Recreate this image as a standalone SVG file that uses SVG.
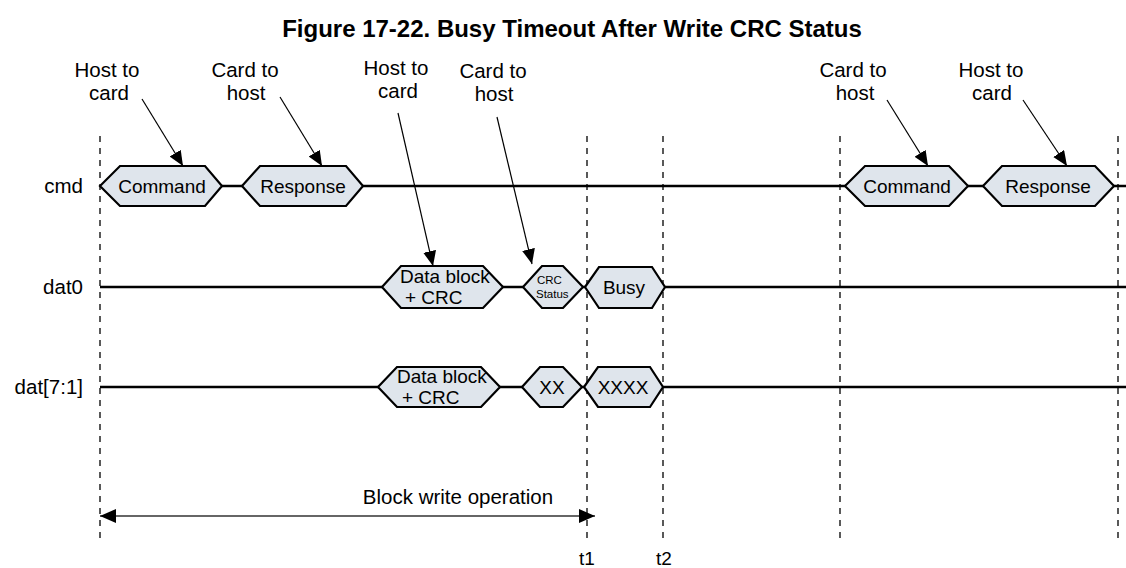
<svg xmlns="http://www.w3.org/2000/svg" width="1126" height="568" viewBox="0 0 1126 568">
<defs>
<marker id="ah" markerUnits="userSpaceOnUse" markerWidth="16" markerHeight="14" refX="15" refY="6.5" orient="auto">
<path d="M0,0 L15,6.5 L0,13 z" fill="#000"/>
</marker>
<marker id="ah2" markerUnits="userSpaceOnUse" markerWidth="17" markerHeight="14" refX="16" refY="7" orient="auto-start-reverse">
<path d="M0,0 L16,7 L0,14 z" fill="#000"/>
</marker>
</defs>
<style>
text{font-family:"Liberation Sans",Arial,sans-serif;fill:#000}
.t{font-size:24px;font-weight:bold}
.lb{font-size:20.5px;text-anchor:middle}
.tm{font-size:19px;text-anchor:middle}
.sig{font-size:20.5px;text-anchor:end}
.hx{font-size:19px}
.c{text-anchor:middle}
.sm{font-size:11.5px}
.hex{fill:#dfe5ec;stroke:#000;stroke-width:2.2}
.wire{stroke:#000;stroke-width:2.5;fill:none}
.dash{stroke:#000;stroke-width:1.3;stroke-dasharray:6 6;fill:none}
.ptr{stroke:#000;stroke-width:1.2;fill:none;marker-end:url(#ah)}
</style>
<rect width="1126" height="568" fill="#fff"/>
<text class="t" x="572" y="37" text-anchor="middle">Figure 17-22. Busy Timeout After Write CRC Status</text>

<g id="timeline-markers">
<line class="dash" x1="100" y1="136" x2="100" y2="540"/>
<line class="dash" x1="587" y1="136" x2="587" y2="540"/>
<line class="dash" x1="663" y1="136" x2="663" y2="540"/>
<line class="dash" x1="840" y1="136" x2="840" y2="540"/>
<line class="dash" x1="1118" y1="136" x2="1118" y2="540"/>
<text class="tm" x="587" y="565">t1</text>
<text class="tm" x="664" y="565">t2</text>
</g>

<g id="signals">
<line class="wire" x1="100" y1="186" x2="1126" y2="186"/>
<line class="wire" x1="100" y1="287" x2="1126" y2="287"/>
<line class="wire" x1="100" y1="387" x2="1126" y2="387"/>
<text class="sig" x="83" y="193">cmd</text>
<text class="sig" x="83" y="294">dat0</text>
<text class="sig" x="83" y="394">dat[7:1]</text>
</g>

<g id="cmd-command-1">
<polygon class="hex" points="100,186 120,166 205,166 222,186 205,206 120,206"/>
<text class="hx c" x="162" y="193">Command</text>
</g>
<g id="cmd-response-1">
<polygon class="hex" points="242,186 260,166 346,166 363,186 346,206 260,206"/>
<text class="hx c" x="303" y="193">Response</text>
</g>
<g id="cmd-command-2">
<polygon class="hex" points="845,186 865,166 949,166 968,186 949,206 865,206"/>
<text class="hx c" x="907" y="193">Command</text>
</g>
<g id="cmd-response-2">
<polygon class="hex" points="983,186 1002,166 1095,166 1114,186 1095,206 1002,206"/>
<text class="hx c" x="1048" y="193">Response</text>
</g>

<g id="dat0-datablock">
<polygon class="hex" points="382,287 401,266 483,266 503,287 483,308 401,308"/>
<text class="hx" x="400" y="283">Data block</text>
<text class="hx" x="405" y="304">+ CRC</text>
</g>
<g id="dat0-crcstatus">
<polygon class="hex" points="523,287 542,266 563,266 583,287 563,308 542,308"/>
<text class="sm" x="537" y="284">CRC</text>
<text class="sm" x="536" y="298">Status</text>
</g>
<g id="dat0-busy">
<polygon class="hex" points="585,287 599,267 652,267 665,287 652,308 599,308"/>
<text class="hx c" x="624" y="294">Busy</text>
</g>

<g id="dat71-datablock">
<polygon class="hex" points="378,387 397,367 481,367 500,387 481,407 397,407"/>
<text class="hx" x="397" y="383">Data block</text>
<text class="hx" x="402" y="404">+ CRC</text>
</g>
<g id="dat71-xx">
<polygon class="hex" points="522,387 540,367 563,367 582,387 563,407 540,407"/>
<text class="hx c" x="552" y="394">XX</text>
</g>
<g id="dat71-xxxx">
<polygon class="hex" points="584,387 598,367 650,367 663,387 650,407 598,407"/>
<text class="hx c" x="623" y="394">XXXX</text>
</g>

<g id="label-1">
<text class="lb" x="107" y="77">Host to</text>
<text class="lb" x="109" y="100">card</text>
</g>
<g id="label-2">
<text class="lb" x="245" y="77">Card to</text>
<text class="lb" x="246" y="100">host</text>
</g>
<g id="label-3">
<text class="lb" x="396" y="75">Host to</text>
<text class="lb" x="398" y="98">card</text>
</g>
<g id="label-4">
<text class="lb" x="493" y="78">Card to</text>
<text class="lb" x="494" y="101">host</text>
</g>
<g id="label-5">
<text class="lb" x="853" y="77">Card to</text>
<text class="lb" x="855" y="100">host</text>
</g>
<g id="label-6">
<text class="lb" x="991" y="77">Host to</text>
<text class="lb" x="992" y="100">card</text>
</g>

<g id="block-write">
<text class="lb" x="458" y="504">Block write operation</text>
</g>

<g id="connectors">
<line class="ptr" x1="142" y1="99" x2="183" y2="166"/>
<line class="ptr" x1="280" y1="97" x2="322" y2="166"/>
<line class="ptr" x1="398" y1="113" x2="433" y2="266"/>
<line class="ptr" x1="497" y1="117" x2="532" y2="264"/>
<line class="ptr" x1="887" y1="100" x2="928" y2="166"/>
<line class="ptr" x1="1023" y1="100" x2="1067" y2="166"/>
<line x1="100" y1="516" x2="595" y2="516" stroke="#333" stroke-width="1.6" marker-start="url(#ah2)" marker-end="url(#ah2)"/>
</g>
</svg>
